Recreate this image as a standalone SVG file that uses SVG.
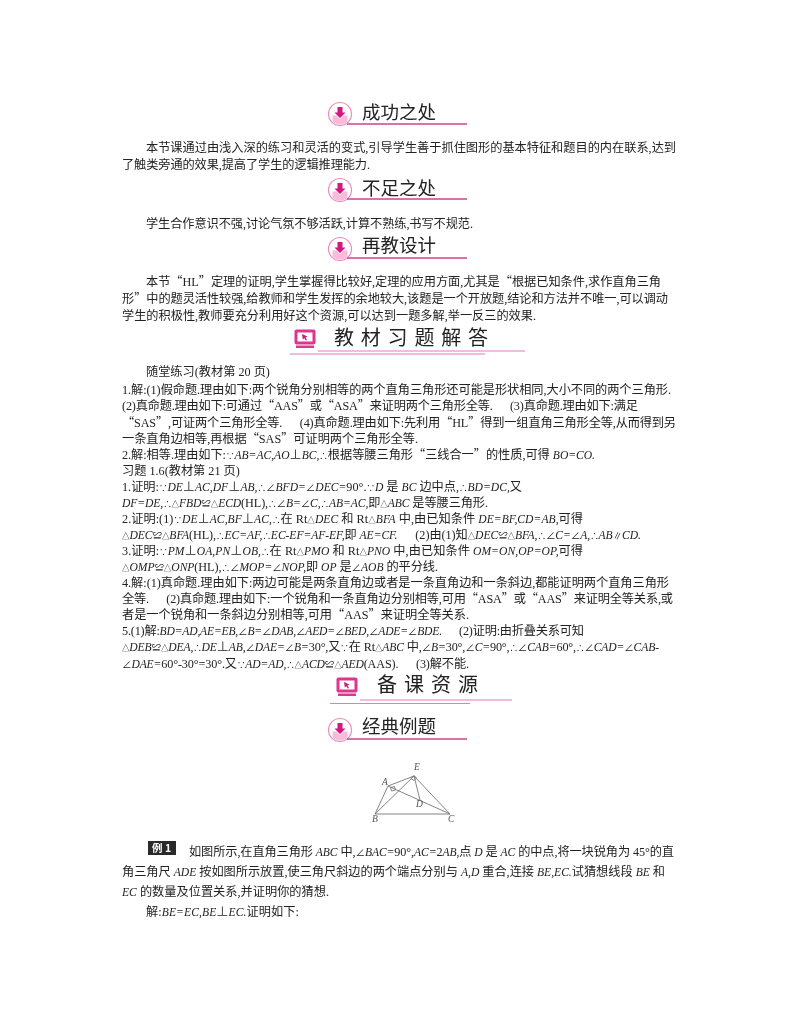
<svg xmlns="http://www.w3.org/2000/svg" width="800" height="1028" viewBox="0 0 800 1028">
<style>
text{font-family:"Liberation Serif","Noto Sans CJK SC",serif;font-size:12.2px;fill:#222;white-space:pre}
svg>g{filter:url(#soft)}
.i{font-style:italic;font-size:11.6px}
.s{font-size:7.500px}
.m{font-size:8.500px}
.a{font-size:9.500px}
.q{font-family:"Noto Sans CJK SC",sans-serif}
.h{font-family:"Noto Sans CJK SC",sans-serif;font-size:18.5px;fill:#222}
.b{font-family:"Noto Sans CJK SC",sans-serif;font-size:20px;font-weight:400;fill:#222}
.l{stroke:#c9438f;stroke-width:1.4;fill:none}
.l2{stroke:#e77bb8;stroke-width:1.2;fill:none}
.f{stroke:#777;stroke-width:.9;fill:none}
.fl{font-size:9.5px;font-style:italic;fill:#555}
</style>
<defs>
<filter id="soft" x="-5%" y="-5%" width="110%" height="110%"><feGaussianBlur stdDeviation="0.35"/></filter>
<g id="dl">
<circle r="11.5" fill="#fff" stroke="#ea8cc0" stroke-width="1.2"/>
<path d="M-7.5 1.5H-3.5L0 5 3.5 1.5H7.5V7.5A10.5 10.5 0 0 1-7.5 7.5Z" fill="#f6bcd9"/>
<path d="M-2.5-7H2.5V-1.5H5.5L0 4-5.5-1.5H-2.500Z" fill="#d6127f"/>
</g>
<g id="pc">
<rect x="-10.5" y="-8.5" width="21" height="15" rx="2" fill="#e0348f"/>
<rect x="-7.5" y="-5.5" width="15" height="9" fill="#fff"/>
<path d="M-3-4L2.5-1.5 .5-.5 2 2 .8 2.6-.6.2-2.2 1.5Z" fill="#c0207a"/>
<rect x="-9" y="7.5" width="18" height="2.5" fill="#e0348f"/>
</g>
</defs>
<g id="h1"><use href="#dl" x="340" y="114"/><path class="l" d="M347 124H467"/><text class="h" x="362" y="119">成功之处</text></g>
<g id="p1">
<text x="146" y="152" textLength="530">本节课通过由浅入深的练习和灵活的变式,引导学生善于抓住图形的基本特征和题目的内在联系,达到</text>
<text x="122" y="169" textLength="248">了触类旁通的效果,提高了学生的逻辑推理能力.</text>
</g>
<g id="h2"><use href="#dl" x="340" y="190"/><path class="l" d="M347 199H467"/><text class="h" x="362" y="195">不足之处</text></g>
<g id="p2"><text x="146" y="228" textLength="327">学生合作意识不强,讨论气氛不够活跃,计算不熟练,书写不规范.</text></g>
<g id="h3"><use href="#dl" x="340" y="249"/><path class="l" d="M347 258H467"/><text class="h" x="362" y="252">再教设计</text></g>
<g id="p3">
<text x="146" y="286" textLength="515">本节<tspan class="q">“</tspan>HL<tspan class="q">”</tspan>定理的证明,学生掌握得比较好,定理的应用方面,尤其是<tspan class="q">“</tspan>根据已知条件,求作直角三角</text>
<text x="122" y="303" textLength="546">形<tspan class="q">”</tspan>中的题灵活性较强,给教师和学生发挥的余地较大,该题是一个开放题,结论和方法并不唯一,可以调动</text>
<text x="122" y="320" textLength="414">学生的积极性,教师要充分利用好这个资源,可以达到一题多解,举一反三的效果.</text>
</g>
<g id="h4"><use href="#pc" x="305" y="338"/><path class="l2" d="M318 351H525"/><path class="l2" d="M290 354H485"/>
<text class="b" x="334" y="345" letter-spacing="6.8">教材习题解答</text></g>
<g id="p4">
<text x="146" y="376">随堂练习(教材第 20 页)</text>
<text x="122" y="394" textLength="549">1.解:(1)假命题.理由如下:两个锐角分别相等的两个直角三角形还可能是形状相同,大小不同的两个三角形.</text>
<text x="122" y="410" textLength="516">(2)真命题.理由如下:可通过<tspan class="q">“</tspan>AAS<tspan class="q">”</tspan>或<tspan class="q">“</tspan>ASA<tspan class="q">”</tspan>来证明两个三角形全等.      (3)真命题.理由如下:满足</text>
<text x="122" y="427" textLength="554"><tspan class="q">“</tspan>SAS<tspan class="q">”</tspan>,可证两个三角形全等.      (4)真命题.理由如下:先利用<tspan class="q">“</tspan>HL<tspan class="q">”</tspan>得到一组直角三角形全等,从而得到另</text>
<text x="122" y="443" textLength="296">一条直角边相等,再根据<tspan class="q">“</tspan>SAS<tspan class="q">”</tspan>可证明两个三角形全等.</text>
<text x="122" y="459" textLength="473">2.解:相等.理由如下:<tspan class="m">∵</tspan><tspan class="i">AB=AC,AO</tspan>⊥<tspan class="i">BC,</tspan><tspan class="m">∴</tspan>根据等腰三角形<tspan class="q">“</tspan>三线合一<tspan class="q">”</tspan>的性质,可得 <tspan class="i">BO=CO.</tspan></text>
<text x="122" y="475">习题 1.6(教材第 21 页)</text>
<text x="122" y="491" textLength="400">1.证明:<tspan class="m">∵</tspan><tspan class="i">DE</tspan>⊥<tspan class="i">AC,DF</tspan>⊥<tspan class="i">AB,</tspan><tspan class="m">∴</tspan><tspan class="a">∠</tspan><tspan class="i">BFD=</tspan><tspan class="a">∠</tspan><tspan class="i">DEC=</tspan>90°.<tspan class="m">∵</tspan><tspan class="i">D</tspan> 是 <tspan class="i">BC</tspan> 边中点,<tspan class="m">∴</tspan><tspan class="i">BD=DC,</tspan>又</text>
<text x="122" y="507" textLength="366"><tspan class="i">DF=DE,</tspan><tspan class="m">∴</tspan><tspan class="s">△</tspan><tspan class="i">FBD</tspan><tspan class="a">≌</tspan><tspan class="s">△</tspan><tspan class="i">ECD</tspan>(HL),<tspan class="m">∴</tspan><tspan class="a">∠</tspan><tspan class="i">B=</tspan><tspan class="a">∠</tspan><tspan class="i">C,</tspan><tspan class="m">∴</tspan><tspan class="i">AB=AC,</tspan>即<tspan class="s">△</tspan><tspan class="i">ABC</tspan> 是等腰三角形.</text>
<text x="122" y="523" textLength="461">2.证明:(1)<tspan class="m">∵</tspan><tspan class="i">DE</tspan>⊥<tspan class="i">AC,BF</tspan>⊥<tspan class="i">AC,</tspan><tspan class="m">∴</tspan>在 Rt<tspan class="s">△</tspan><tspan class="i">DEC</tspan> 和 Rt<tspan class="s">△</tspan><tspan class="i">BFA</tspan> 中,由已知条件 <tspan class="i">DE=BF,CD=AB,</tspan>可得</text>
<text x="122" y="539" textLength="519"><tspan class="s">△</tspan><tspan class="i">DEC</tspan><tspan class="a">≌</tspan><tspan class="s">△</tspan><tspan class="i">BFA</tspan>(HL),<tspan class="m">∴</tspan><tspan class="i">EC=AF,</tspan><tspan class="m">∴</tspan><tspan class="i">EC-EF=AF-EF,</tspan>即 <tspan class="i">AE=CF.</tspan>      (2)由(1)知<tspan class="s">△</tspan><tspan class="i">DEC</tspan><tspan class="a">≌</tspan><tspan class="s">△</tspan><tspan class="i">BFA,</tspan><tspan class="m">∴</tspan><tspan class="a">∠</tspan><tspan class="i">C=</tspan><tspan class="a">∠</tspan><tspan class="i">A,</tspan><tspan class="m">∴</tspan><tspan class="i">AB</tspan><tspan class="a">∥</tspan><tspan class="i">CD.</tspan></text>
<text x="122" y="555" textLength="461">3.证明:<tspan class="m">∵</tspan><tspan class="i">PM</tspan>⊥<tspan class="i">OA,PN</tspan>⊥<tspan class="i">OB,</tspan><tspan class="m">∴</tspan>在 Rt<tspan class="s">△</tspan><tspan class="i">PMO</tspan> 和 Rt<tspan class="s">△</tspan><tspan class="i">PNO</tspan> 中,由已知条件 <tspan class="i">OM=ON,OP=OP,</tspan>可得</text>
<text x="122" y="571" textLength="316"><tspan class="s">△</tspan><tspan class="i">OMP</tspan><tspan class="a">≌</tspan><tspan class="s">△</tspan><tspan class="i">ONP</tspan>(HL),<tspan class="m">∴</tspan><tspan class="a">∠</tspan><tspan class="i">MOP=</tspan><tspan class="a">∠</tspan><tspan class="i">NOP,</tspan>即 <tspan class="i">OP</tspan> 是<tspan class="a">∠</tspan><tspan class="i">AOB</tspan> 的平分线.</text>
<text x="122" y="587" textLength="547">4.解:(1)真命题.理由如下:两边可能是两条直角边或者是一条直角边和一条斜边,都能证明两个直角三角形</text>
<text x="122" y="603" textLength="551">全等.      (2)真命题.理由如下:一个锐角和一条直角边分别相等,可用<tspan class="q">“</tspan>ASA<tspan class="q">”</tspan>或<tspan class="q">“</tspan>AAS<tspan class="q">”</tspan>来证明全等关系,或</text>
<text x="122" y="619" textLength="347">者是一个锐角和一条斜边分别相等,可用<tspan class="q">“</tspan>AAS<tspan class="q">”</tspan>来证明全等关系.</text>
<text x="122" y="635" textLength="462">5.(1)解:<tspan class="i">BD=AD,AE=EB,</tspan><tspan class="a">∠</tspan><tspan class="i">B=</tspan><tspan class="a">∠</tspan><tspan class="i">DAB,</tspan><tspan class="a">∠</tspan><tspan class="i">AED=</tspan><tspan class="a">∠</tspan><tspan class="i">BED,</tspan><tspan class="a">∠</tspan><tspan class="i">ADE=</tspan><tspan class="a">∠</tspan><tspan class="i">BDE.</tspan>      (2)证明:由折叠关系可知</text>
<text x="122" y="651" textLength="537"><tspan class="s">△</tspan><tspan class="i">DEB</tspan><tspan class="a">≌</tspan><tspan class="s">△</tspan><tspan class="i">DEA,</tspan><tspan class="m">∴</tspan><tspan class="i">DE</tspan>⊥<tspan class="i">AB,</tspan><tspan class="a">∠</tspan><tspan class="i">DAE=</tspan><tspan class="a">∠</tspan><tspan class="i">B=</tspan>30°,又<tspan class="m">∵</tspan>在 Rt<tspan class="s">△</tspan><tspan class="i">ABC</tspan> 中,<tspan class="a">∠</tspan><tspan class="i">B=</tspan>30°,<tspan class="a">∠</tspan><tspan class="i">C=</tspan>90°,<tspan class="m">∴</tspan><tspan class="a">∠</tspan><tspan class="i">CAB=</tspan>60°,<tspan class="m">∴</tspan><tspan class="a">∠</tspan><tspan class="i">CAD=</tspan><tspan class="a">∠</tspan><tspan class="i">CAB-</tspan></text>
<text x="122" y="668" textLength="347"><tspan class="a">∠</tspan><tspan class="i">DAE=</tspan>60°-30°=30°.又<tspan class="m">∵</tspan><tspan class="i">AD=AD,</tspan><tspan class="m">∴</tspan><tspan class="s">△</tspan><tspan class="i">ACD</tspan><tspan class="a">≌</tspan><tspan class="s">△</tspan><tspan class="i">AED</tspan>(AAS).      (3)解不能.</text>
</g>
<g id="h5"><use href="#pc" x="347" y="686"/><path class="l2" d="M360 700H512"/><path class="l2" d="M330 703.500H470"/>
<text class="b" x="377" y="692" letter-spacing="7">备课资源</text></g>
<g id="h6"><use href="#dl" x="340" y="730"/><path class="l" d="M347 739H467"/><text class="h" x="362" y="733">经典例题</text></g>
<g id="fig">
<path class="f" d="M388 786L414 776M388 786L375 814M388 786L450 814M414 776L375 814M414 776L420 800M414 776L450 814M375 814H450"/>
<path class="f" d="M390.500 787.500l4-1 1 3.500-4 1zM411 778.500l3 2 2.500-2.500-2.500-2.500z"/>
<text class="fl" x="382" y="785">A</text><text class="fl" x="414" y="770">E</text><text class="fl" x="416" y="807">D</text><text class="fl" x="372" y="822">B</text><text class="fl" x="448" y="822">C</text>
</g>
<g id="p5">
<rect x="148" y="841" width="28" height="14" fill="#2b2b2b"/>
<text x="152" y="852" style="fill:#fff;font-family:'Noto Sans CJK SC',sans-serif;font-size:10.5px;font-weight:700">例 1</text>
<text x="189" y="856" textLength="485">如图所示,在直角三角形 <tspan class="i">ABC</tspan> 中,<tspan class="a">∠</tspan><tspan class="i">BAC=</tspan>90°,<tspan class="i">AC=</tspan>2<tspan class="i">AB,</tspan>点 <tspan class="i">D</tspan> 是 <tspan class="i">AC</tspan> 的中点,将一块锐角为 45°的直</text>
<text x="122" y="876" textLength="543">角三角尺 <tspan class="i">ADE</tspan> 按如图所示放置,使三角尺斜边的两个端点分别与 <tspan class="i">A,D</tspan> 重合,连接 <tspan class="i">BE,EC.</tspan>试猜想线段 <tspan class="i">BE</tspan> 和</text>
<text x="122" y="896" textLength="207"><tspan class="i">EC</tspan> 的数量及位置关系,并证明你的猜想.</text>
<text x="146" y="916" textLength="153">解:<tspan class="i">BE=EC,BE</tspan>⊥<tspan class="i">EC.</tspan>证明如下:</text>
</g>
</svg>
